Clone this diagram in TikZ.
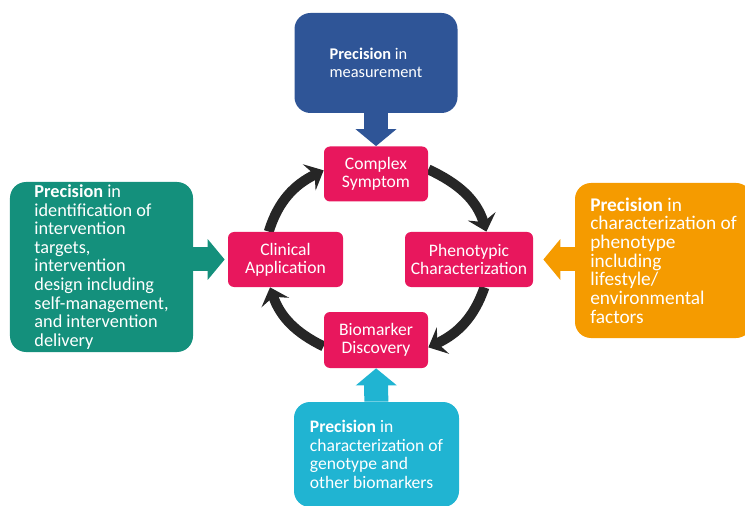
\documentclass[tikz,border=0pt]{standalone}
\usepackage{fontspec}
\setmainfont{Carlito}
\usetikzlibrary{arrows.meta,backgrounds}

\definecolor{stagepink}{HTML}{E8175D}
\definecolor{measblue}{HTML}{2F5597}
\definecolor{intervteal}{HTML}{14907C}
\definecolor{phenoorange}{HTML}{F59B00}
\definecolor{genocyan}{HTML}{20B4D2}
\definecolor{ringgray}{HTML}{262626}

\tikzset{
	stage/.style={fill=stagepink, text=white, rounded corners=0.12cm, align=center,
		inner sep=0pt, minimum height=1.1cm, font=\fontsize{10}{10.3}\selectfont},
	precise/.style={text=white, rounded corners=0.32cm, align=left, inner sep=0pt},
	ringarrow/.style={draw=ringgray, line width=0.2cm,
		-{Stealth[length=0.32cm, width=0.58cm, inset=0.12cm]}},
	feed/.style={line width=0.48cm, -{Triangle[length=0.34cm, width=0.8cm]}},
}

\begin{document}
\begin{tikzpicture}
		\useasboundingbox (0, 0) rectangle (14.9, 10.1);
		
		% stages of the cycle
		\node[stage, minimum width=2.08cm] (cs) at (7.52, 6.62) {Complex\\Symptom};
		\node[stage, minimum width=2.56cm] (pc) at (9.38, 4.91) {Phenotypic\\Characterization};
		\node[stage, minimum width=2.08cm, minimum height=1.12cm] (bd) at (7.52, 3.30) {Biomarker\\Discovery};
		\node[stage, minimum width=2.30cm] (ca) at (5.71, 4.91) {Clinical\\Application};
		
		% cycle arrows, behind the stages
		\begin{scope}[on background layer]
			\draw[ringarrow] (cs.5) to[out=-25, in=107] (pc.58);
			\draw[ringarrow] (pc.299) to[out=-109, in=25] (bd.352);
			\draw[ringarrow] (bd.187) to[out=154, in=-71] (ca.241);
			\draw[ringarrow] (ca.121) to[out=73, in=206] (cs.176);
		\end{scope}
		
		% precision boxes
		\node[precise, fill=measblue, minimum width=3.26cm, minimum height=2cm,
			font=\fontsize{9.3}{10.2}\selectfont] (meas) at (7.52, 8.84)
			{\textbf{Precision} in\\measurement};
		\node[precise, fill=intervteal, minimum width=3.66cm, minimum height=3.4cm,
			font=\fontsize{10.4}{10.6}\selectfont] (interv) at (2.03, 4.76)
			{\textbf{Precision} in\\identification of\\intervention\\targets,\\intervention\\design including\\self-management,\\and intervention\\delivery};
		\node[precise, fill=phenoorange, minimum width=3.54cm, minimum height=3.1cm,
			font=\fontsize{11}{10.6}\selectfont] (pheno) at (13.27, 4.89)
			{\textbf{Precision} in\\characterization of\\phenotype\\including\\lifestyle/\\environmental\\factors};
		\node[precise, fill=genocyan, minimum width=3.3cm, minimum height=2.1cm,
			font=\fontsize{10}{10.6}\selectfont] (geno) at (7.53, 1.01)
			{\textbf{Precision} in\\characterization of\\genotype and\\other biomarkers};
		
		% block arrows into the cycle
		\draw[feed, measblue] (meas) -- (cs);
		\draw[feed, intervteal, shorten >=0.06cm] (interv.east |- ca) -- (ca);
		\draw[feed, phenoorange, shorten >=0.2cm] (pheno.west |- pc) -- (pc);
		\draw[feed, genocyan] (geno) -- (bd);
		
	\end{tikzpicture}
\end{document}
